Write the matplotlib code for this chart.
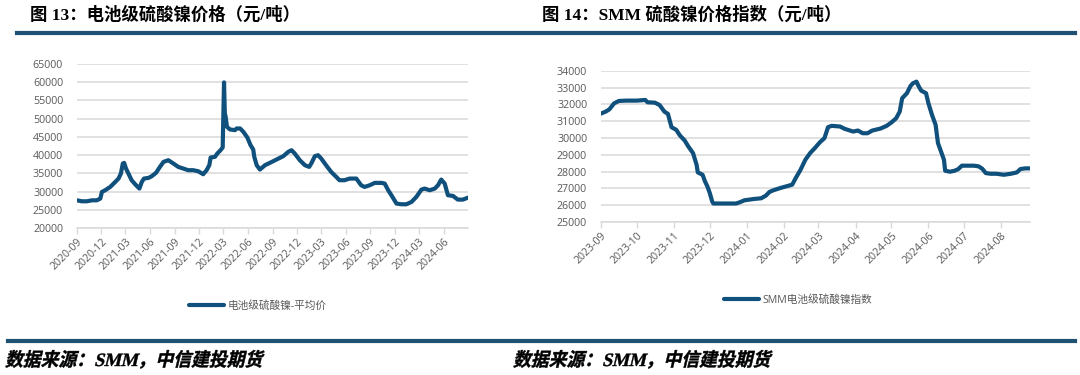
import matplotlib
matplotlib.use("Agg")
import matplotlib.pyplot as plt
import matplotlib.dates as mdates
from matplotlib.textpath import TextPath
from matplotlib.patches import PathPatch
from matplotlib.font_manager import FontProperties
from matplotlib.transforms import Affine2D
import pandas as pd

# 图13 电池级硫酸镍-平均价 (元/吨)
left_dates = [
    "2020-09-01", "2020-09-19", "2020-10-08", "2020-10-27", "2020-11-14", "2020-11-27",
    "2020-12-03", "2020-12-15", "2021-01-03", "2021-01-22", "2021-02-03", "2021-02-12",
    "2021-02-19", "2021-02-24", "2021-03-03", "2021-03-12", "2021-03-24", "2021-04-06",
    "2021-04-22", "2021-05-01", "2021-05-09", "2021-05-26", "2021-06-07", "2021-06-23",
    "2021-07-06", "2021-07-21", "2021-08-08", "2021-08-27", "2021-09-14", "2021-10-03",
    "2021-10-21", "2021-11-09", "2021-11-28", "2021-12-16", "2021-12-29", "2022-01-08",
    "2022-01-13", "2022-01-29", "2022-02-07", "2022-02-19", "2022-02-27", "2022-03-04",
    "2022-03-07", "2022-03-10", "2022-03-15", "2022-03-26", "2022-04-14", "2022-04-20",
    "2022-05-03", "2022-05-15", "2022-05-30", "2022-06-11", "2022-06-21", "2022-06-25",
    "2022-07-04", "2022-07-16", "2022-08-04", "2022-08-22", "2022-09-16", "2022-10-11",
    "2022-10-30", "2022-11-11", "2022-11-23", "2022-12-12", "2022-12-31", "2023-01-16",
    "2023-01-25", "2023-02-06", "2023-02-18", "2023-03-02", "2023-03-20", "2023-04-08",
    "2023-04-27", "2023-05-09", "2023-05-28", "2023-06-16", "2023-07-11", "2023-07-29",
    "2023-08-11", "2023-08-30", "2023-09-18", "2023-10-13", "2023-10-25", "2023-11-07",
    "2023-11-19", "2023-12-08", "2023-12-26", "2024-01-14", "2024-02-02", "2024-02-20",
    "2024-03-10", "2024-03-22", "2024-04-10", "2024-04-29", "2024-05-11", "2024-05-23",
    "2024-06-05", "2024-06-17", "2024-07-06", "2024-07-24", "2024-08-12", "2024-08-31",
]
left_values = [
    27600, 27330, 27330, 27600, 27600, 28070,
    29900, 30360, 31270, 32650, 33560, 34940,
    37690, 37870, 36310, 34940, 33110, 32010,
    30820, 32650, 33560, 33750, 34210, 35130,
    36590, 38140, 38600, 37690, 36770, 36310,
    35860, 35860, 35560, 34760, 35860, 37230,
    39340, 39520, 40440, 41350, 42090, 59960,
    51440, 50520, 47770, 47040, 46850, 47310,
    47310, 46400, 44840, 42730, 41540, 39520,
    37230, 36040, 37230, 37870, 38790, 39700,
    40900, 41350, 40440, 38600, 37230, 36770,
    37870, 39700, 39980, 39060, 37230, 35400,
    34030, 33110, 33110, 33560, 33560, 31730,
    31270, 31730, 32380, 32380, 32190, 30360,
    28990, 26700, 26510, 26510, 27150, 28520,
    30540, 30820, 30360, 30820, 31730, 33290,
    32190, 28990, 28800, 27790, 27790, 28340,
]

# 图14 SMM电池级硫酸镍指数
right_dates = [
    "2023-09-01", "2023-09-05", "2023-09-08", "2023-09-12", "2023-09-16", "2023-09-22",
    "2023-10-01", "2023-10-08", "2023-10-10", "2023-10-16", "2023-10-20", "2023-10-24",
    "2023-10-27", "2023-10-28", "2023-10-30", "2023-11-03", "2023-11-06", "2023-11-10",
    "2023-11-13", "2023-11-17", "2023-11-20", "2023-11-21", "2023-11-25", "2023-11-27",
    "2023-11-29", "2023-12-01", "2023-12-03", "2023-12-04", "2023-12-23", "2023-12-26",
    "2023-12-30", "2024-01-03", "2024-01-07", "2024-01-13", "2024-01-17", "2024-01-20",
    "2024-01-23", "2024-01-29", "2024-02-05", "2024-02-08", "2024-02-11", "2024-02-15",
    "2024-02-19", "2024-02-23", "2024-02-27", "2024-03-02", "2024-03-06", "2024-03-09",
    "2024-03-12", "2024-03-19", "2024-03-23", "2024-03-30", "2024-04-03", "2024-04-07",
    "2024-04-11", "2024-04-15", "2024-04-22", "2024-04-27", "2024-05-01", "2024-05-05",
    "2024-05-08", "2024-05-10", "2024-05-14", "2024-05-17", "2024-05-19", "2024-05-22",
    "2024-05-24", "2024-05-26", "2024-05-30", "2024-06-01", "2024-06-04", "2024-06-07",
    "2024-06-09", "2024-06-12", "2024-06-14", "2024-06-15", "2024-06-19", "2024-06-23",
    "2024-06-26", "2024-06-29", "2024-07-03", "2024-07-09", "2024-07-13", "2024-07-16",
    "2024-07-19", "2024-07-23", "2024-07-28", "2024-08-03", "2024-08-09", "2024-08-14",
    "2024-08-17", "2024-08-21", "2024-08-25",
]
right_values = [
    31450, 31570, 31700, 32060, 32200, 32220,
    32220, 32260, 32120, 32100, 31960, 31570,
    31430, 31170, 30640, 30480, 30150, 29850,
    29500, 29100, 28400, 27950, 27810, 27420,
    27120, 26730, 26230, 26100, 26100, 26170,
    26290, 26330, 26370, 26410, 26570, 26790,
    26880, 27020, 27160, 27220, 27620, 28110,
    28700, 29100, 29400, 29730, 29990, 30640,
    30720, 30680, 30540, 30380, 30440, 30280,
    30280, 30440, 30560, 30720, 30920, 31170,
    31570, 32360, 32660, 33090, 33250, 33350,
    33050, 32810, 32660, 32060, 31370, 30780,
    29690, 29100, 28700, 28050, 27990, 28050,
    28150, 28350, 28350, 28350, 28310, 28170,
    27910, 27870, 27870, 27810, 27870, 27950,
    28150, 28190, 28190,
]

title_left = "图 13：电池级硫酸镍价格（元/吨）"
title_right = "图 14：SMM 硫酸镍价格指数（元/吨）"
label_left = "电池级硫酸镍-平均价"
label_right = "SMM电池级硫酸镍指数"
source = "数据来源：SMM，中信建投期货"

line_color = "#10507c"
grid_color = "#d9d9d9"
tick_color = "#595959"
bar_color = "#1f5272"
sans = ["Open Sans", "Noto Sans CJK SC"]
title_font = ["Liberation Serif", "Noto Sans CJK SC"]

plt.rcParams["font.family"] = sans

fig = plt.figure(figsize=(10.8, 3.75), dpi=100)

ax1 = fig.add_axes([77 / 1080, 1 - 228 / 375, 391 / 1080, 164 / 375])
ax2 = fig.add_axes([601 / 1080, 1 - 222 / 375, 429 / 1080, 151.3 / 375])


def style(ax, ymin, ymax, step, months):
    ax.set_ylim(ymin, ymax)
    ax.set_yticks(range(ymin, ymax + 1, step))
    ax.grid(axis="y", color=grid_color, linewidth=1.1)
    ax.set_axisbelow(True)
    for s in ["top", "right", "left"]:
        ax.spines[s].set_visible(False)
    ax.spines["bottom"].set_color(grid_color)
    ax.spines["bottom"].set_linewidth(1.1)
    ax.xaxis.set_major_locator(mdates.MonthLocator(bymonth=months))
    ax.xaxis.set_major_formatter(mdates.DateFormatter("%Y-%m"))
    ax.tick_params(axis="y", length=0, pad=10, labelsize=7.7, labelcolor=tick_color)
    ax.tick_params(axis="x", length=4, width=1, color=grid_color, pad=2,
                   labelsize=7.7, labelcolor=tick_color)
    for lab in ax.get_xticklabels():
        lab.set_rotation(45)
        lab.set_ha("right")
        lab.set_rotation_mode("anchor")


d1 = pd.to_datetime(left_dates)
ax1.plot(d1, left_values, color=line_color, linewidth=3.0, solid_joinstyle="round",
         solid_capstyle="round", label=label_left)
ax1.set_xlim(pd.Timestamp("2020-09-01"), pd.Timestamp("2024-08-31"))
style(ax1, 20000, 65000, 5000, [3, 6, 9, 12])

d2 = pd.to_datetime(right_dates)
ax2.plot(d2, right_values, color=line_color, linewidth=3.0, solid_joinstyle="round",
         solid_capstyle="round", label=label_right)
ax2.set_xlim(pd.Timestamp("2023-09-01"), pd.Timestamp("2024-08-25"))
style(ax2, 25000, 34000, 1000, list(range(1, 13)))

leg_kw = dict(frameon=False, fontsize=7.7, labelcolor=tick_color, handlelength=3.2,
              handletextpad=0.4, loc="center left", borderaxespad=0)
ax1.legend(bbox_to_anchor=(185 / 1080, 1 - 306 / 375), bbox_transform=fig.transFigure, **leg_kw)
ax2.legend(bbox_to_anchor=(720 / 1080, 1 - 300 / 375), bbox_transform=fig.transFigure, **leg_kw)

# titles and header rule
fig.text(30 / 1080, 1 - 15 / 375, title_left, fontsize=12.5, fontweight="bold",
         family=title_font, va="center", ha="left")
fig.text(542 / 1080, 1 - 15 / 375, title_right, fontsize=12.5, fontweight="bold",
         family=title_font, va="center", ha="left")
fig.add_artist(plt.Line2D([17 / 1080, 1075 / 1080], [1 - 32.5 / 375] * 2,
                          color=bar_color, linewidth=3, transform=fig.transFigure))

# footer rule and sources (slanted like the italic original)
fig.add_artist(plt.Line2D([8 / 1080, 1075 / 1080], [1 - 341 / 375] * 2,
                          color=bar_color, linewidth=3, transform=fig.transFigure))
src_prop = FontProperties(family=title_font, weight="bold", size=13.5)
src_path = TextPath((0, 0), source, prop=src_prop)
for x_px in (5, 513):
    tr = (Affine2D().skew_deg(14, 0).scale(0.95 / 72, 1 / 72)
          .translate(x_px / 100, (375 - 366) / 100) + fig.dpi_scale_trans)
    fig.add_artist(PathPatch(src_path, transform=tr, color="black", lw=0.3))

fig.savefig("out.png", dpi=100)
